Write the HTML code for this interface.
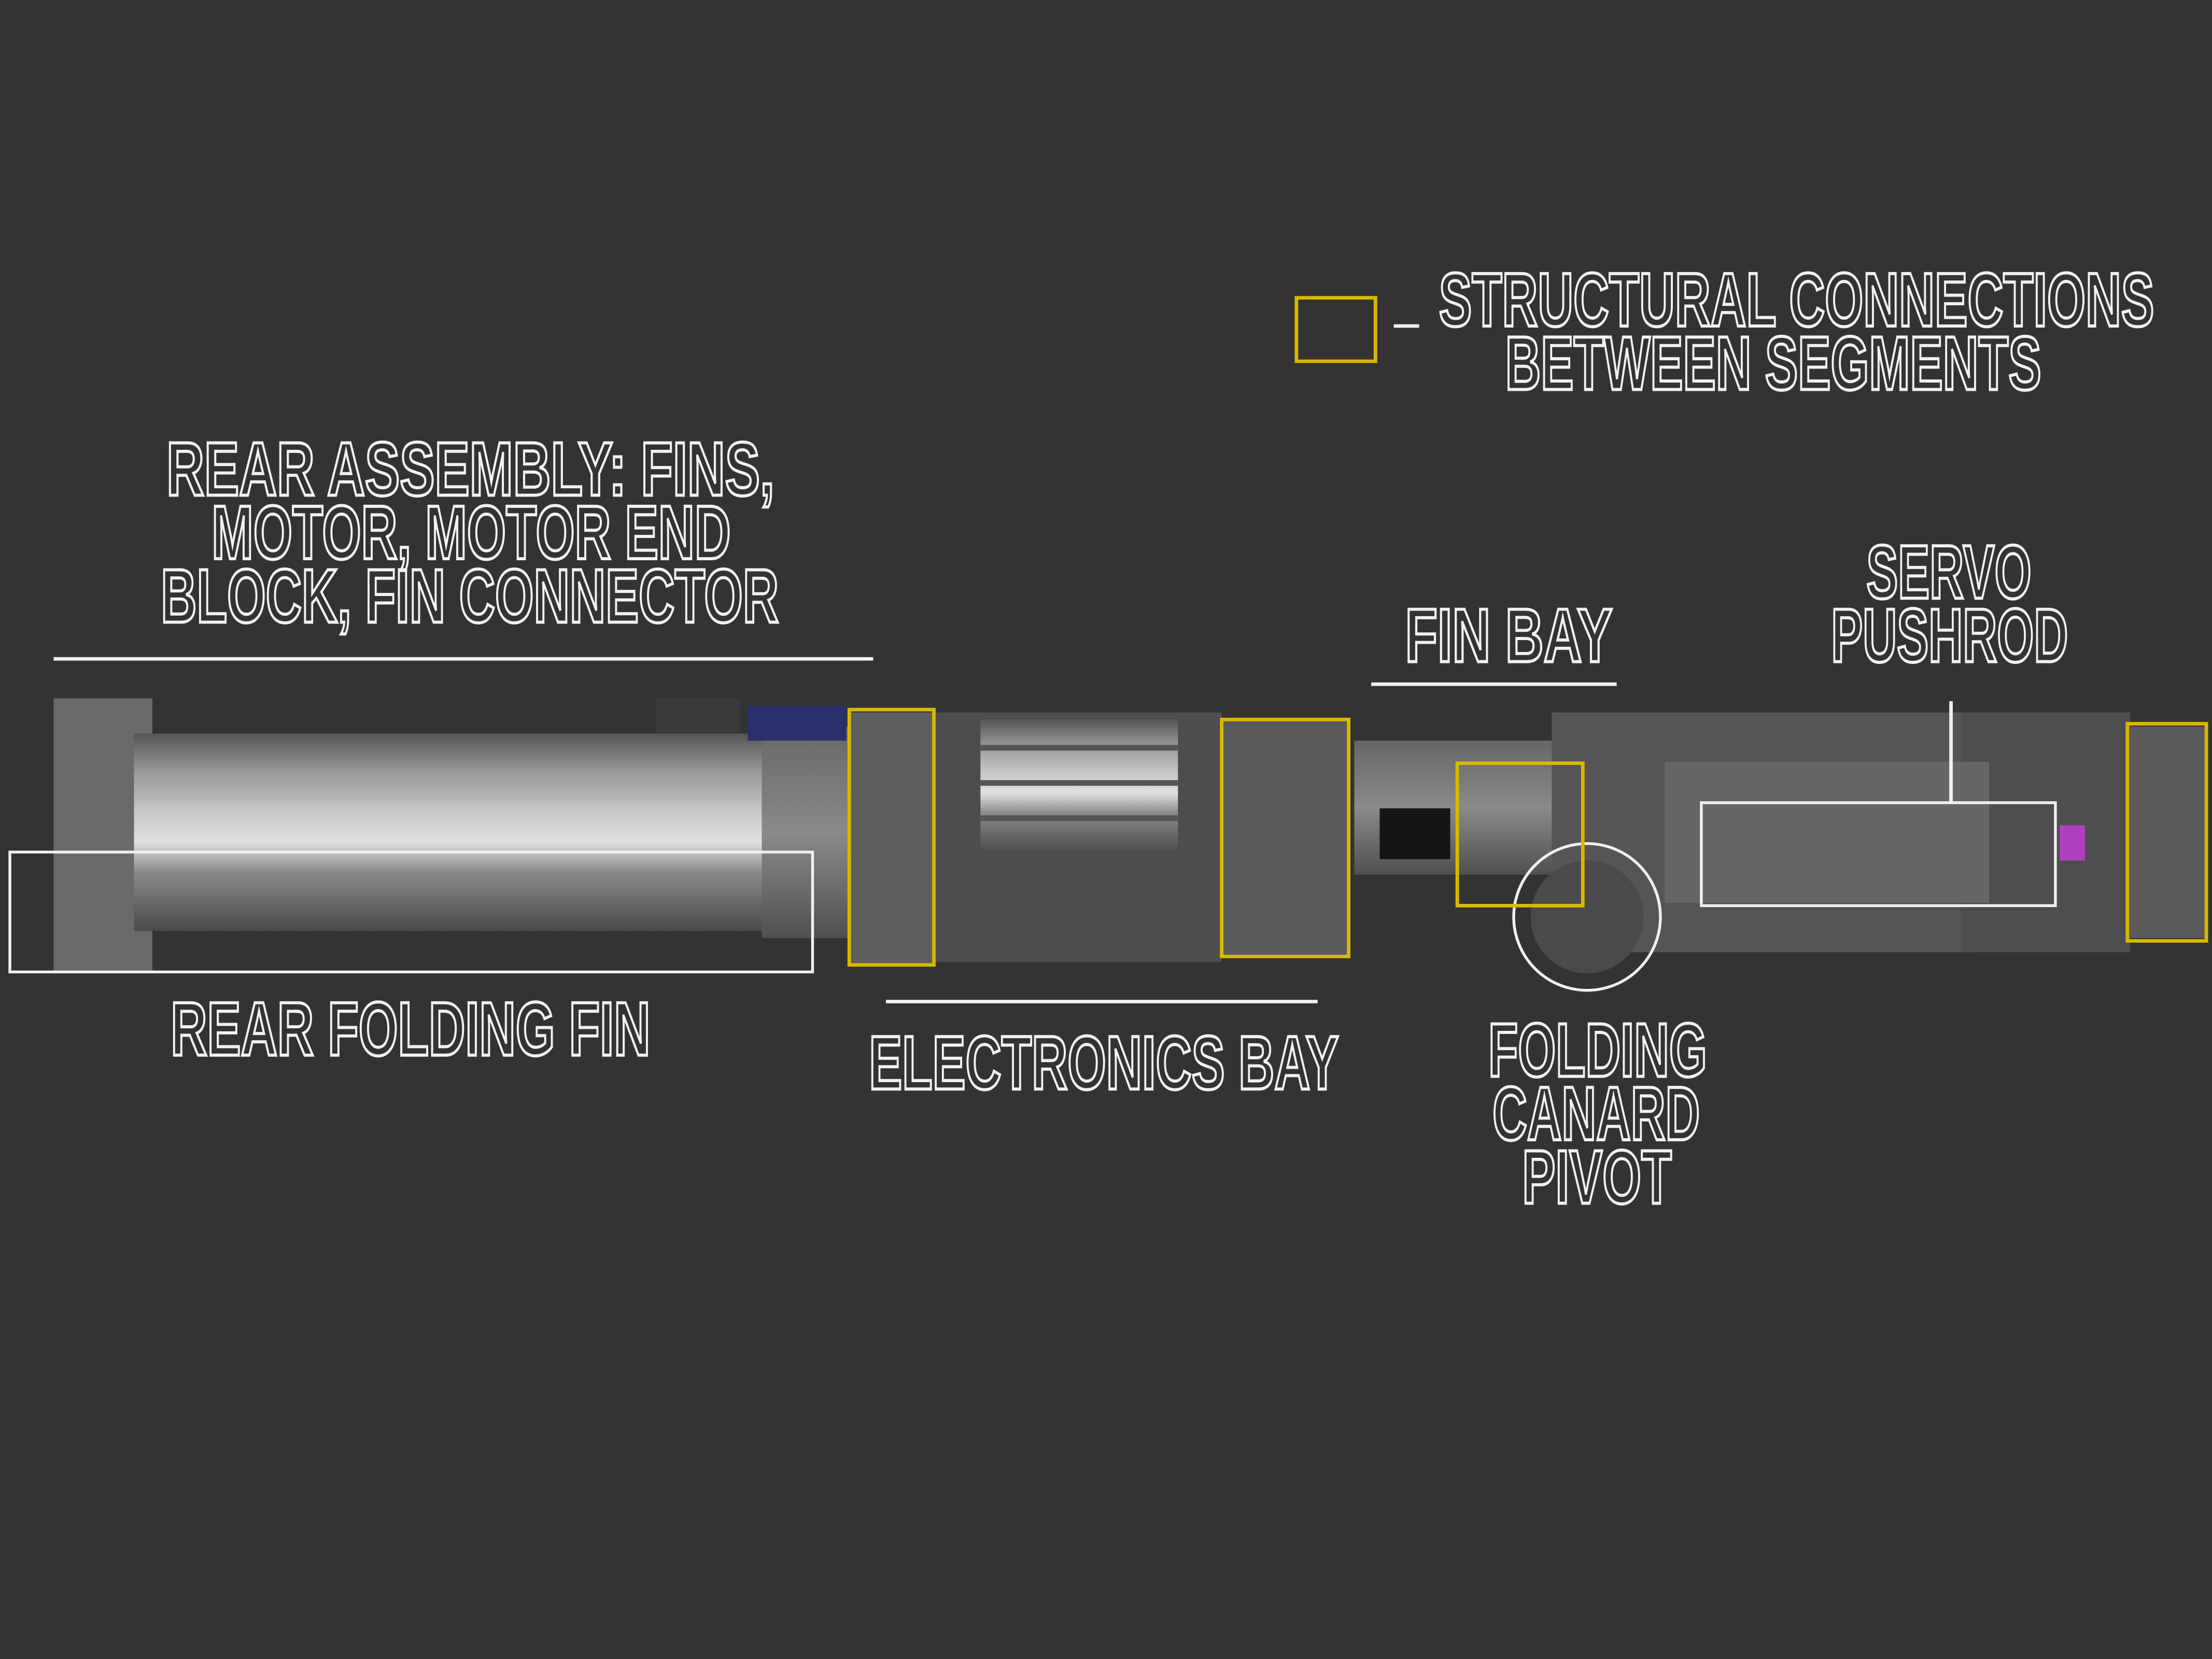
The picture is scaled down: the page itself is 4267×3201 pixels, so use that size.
<!DOCTYPE html>
<html><head><meta charset="utf-8"><style>
html,body{margin:0;padding:0;background:#333333;}
svg{display:block;}
.t{font-family:"Liberation Sans Narrow","Liberation Sans",sans-serif;font-weight:bold;font-size:54px;fill:none;stroke:#f2f2f2;stroke-width:2.2;}
</style></head><body>
<svg width="4267" height="3201" viewBox="0 0 1568 1176" xmlns="http://www.w3.org/2000/svg">
<defs>
<linearGradient id="cyl" x1="0" y1="0" x2="0" y2="1">
<stop offset="0" stop-color="#555"/><stop offset="0.2" stop-color="#9a9a9a"/>
<stop offset="0.4" stop-color="#c8c8c8"/><stop offset="0.55" stop-color="#e0e0e0"/>
<stop offset="0.7" stop-color="#8a8a8a"/><stop offset="1" stop-color="#4a4a4a"/>
</linearGradient>
<linearGradient id="dk" x1="0" y1="0" x2="0" y2="1">
<stop offset="0" stop-color="#666"/><stop offset="0.5" stop-color="#8a8a8a"/><stop offset="1" stop-color="#505050"/>
</linearGradient>
</defs>
<rect width="1568" height="1176" fill="#333333"/>

<!-- rocket body -->
<rect x="38" y="495" width="70" height="195" fill="#6a6a6a"/>
<rect x="95" y="520" width="450" height="140" fill="url(#cyl)"/>
<rect x="540" y="515" width="62" height="150" fill="url(#dk)"/>
<rect x="465" y="495" width="60" height="25" fill="#3a3a3a"/>
<rect x="530" y="500" width="70" height="25" fill="#2b2f6a"/>
<rect x="602" y="505" width="60" height="178" fill="#5e5e5e"/>
<rect x="662" y="505" width="204" height="177" fill="#4d4d4d"/>
<rect x="695" y="510" width="140" height="95" fill="url(#cyl)"/>
<line x1="695" y1="530" x2="835" y2="530" stroke="#555" stroke-width="4"/>
<line x1="695" y1="555" x2="835" y2="555" stroke="#555" stroke-width="4"/>
<line x1="695" y1="580" x2="835" y2="580" stroke="#555" stroke-width="4"/>
<rect x="866" y="510" width="90" height="168" fill="#5a5a5a"/>
<rect x="960" y="525" width="150" height="95" fill="url(#dk)"/>
<rect x="978" y="573" width="50" height="36" fill="#151515"/>
<rect x="1100" y="505" width="300" height="170" fill="#555"/>
<rect x="1390" y="505" width="120" height="170" fill="#4e4e4e"/>
<rect x="1180" y="540" width="230" height="100" fill="#666"/>
<rect x="1460" y="585" width="18" height="25" fill="#b040c0"/>
<rect x="1508" y="515" width="55" height="150" fill="#5a5a5a"/>
<circle cx="1125" cy="650" r="40" fill="#4a4a4a"/>

<!-- overlays -->
<rect x="7" y="604" width="569" height="85" fill="none" stroke="#f0f0f0" stroke-width="2"/>
<rect x="1206" y="569" width="251" height="73" fill="none" stroke="#f0f0f0" stroke-width="2"/>
<circle cx="1125" cy="650" r="52" fill="none" stroke="#f0f0f0" stroke-width="2"/>
<g fill="none" stroke="#d8b800" stroke-width="2.5">
<rect x="602" y="503" width="60" height="181"/>
<rect x="866" y="510" width="90" height="168"/>
<rect x="1033" y="541" width="89" height="101"/>
<rect x="1508" y="513" width="56" height="154"/>
<rect x="919" y="211" width="56" height="45"/>
</g>
<g stroke="#f0f0f0" stroke-width="2.5">
<line x1="38" y1="467" x2="619" y2="467"/>
<line x1="628" y1="710" x2="934" y2="710"/>
<line x1="972" y1="485" x2="1146" y2="485"/>
<line x1="1383" y1="497" x2="1383" y2="570"/>
<line x1="988" y1="231" x2="1006" y2="231"/>
</g>

<!-- labels -->
<g class="t">
<text x="1020" y="231" textLength="507" lengthAdjust="spacingAndGlyphs">STRUCTURAL CONNECTIONS</text>
<text x="1067" y="276" textLength="380" lengthAdjust="spacingAndGlyphs">BETWEEN SEGMENTS</text>
<text x="118" y="351" textLength="431" lengthAdjust="spacingAndGlyphs">REAR ASSEMBLY: FINS,</text>
<text x="150" y="396" textLength="368" lengthAdjust="spacingAndGlyphs">MOTOR, MOTOR END</text>
<text x="114" y="441" textLength="438" lengthAdjust="spacingAndGlyphs">BLOCK, FIN CONNECTOR</text>
<text x="121" y="748" textLength="340" lengthAdjust="spacingAndGlyphs">REAR FOLDING FIN</text>
<text x="616" y="772" textLength="333" lengthAdjust="spacingAndGlyphs">ELECTRONICS BAY</text>
<text x="996" y="469" textLength="147" lengthAdjust="spacingAndGlyphs">FIN BAY</text>
<text x="1055" y="763" textLength="155" lengthAdjust="spacingAndGlyphs">FOLDING</text>
<text x="1058" y="808" textLength="147" lengthAdjust="spacingAndGlyphs">CANARD</text>
<text x="1079" y="853" textLength="106" lengthAdjust="spacingAndGlyphs">PIVOT</text>
<text x="1323" y="424" textLength="117" lengthAdjust="spacingAndGlyphs">SERVO</text>
<text x="1298" y="469" textLength="168" lengthAdjust="spacingAndGlyphs">PUSHROD</text>
</g>
</svg>
</body></html>
